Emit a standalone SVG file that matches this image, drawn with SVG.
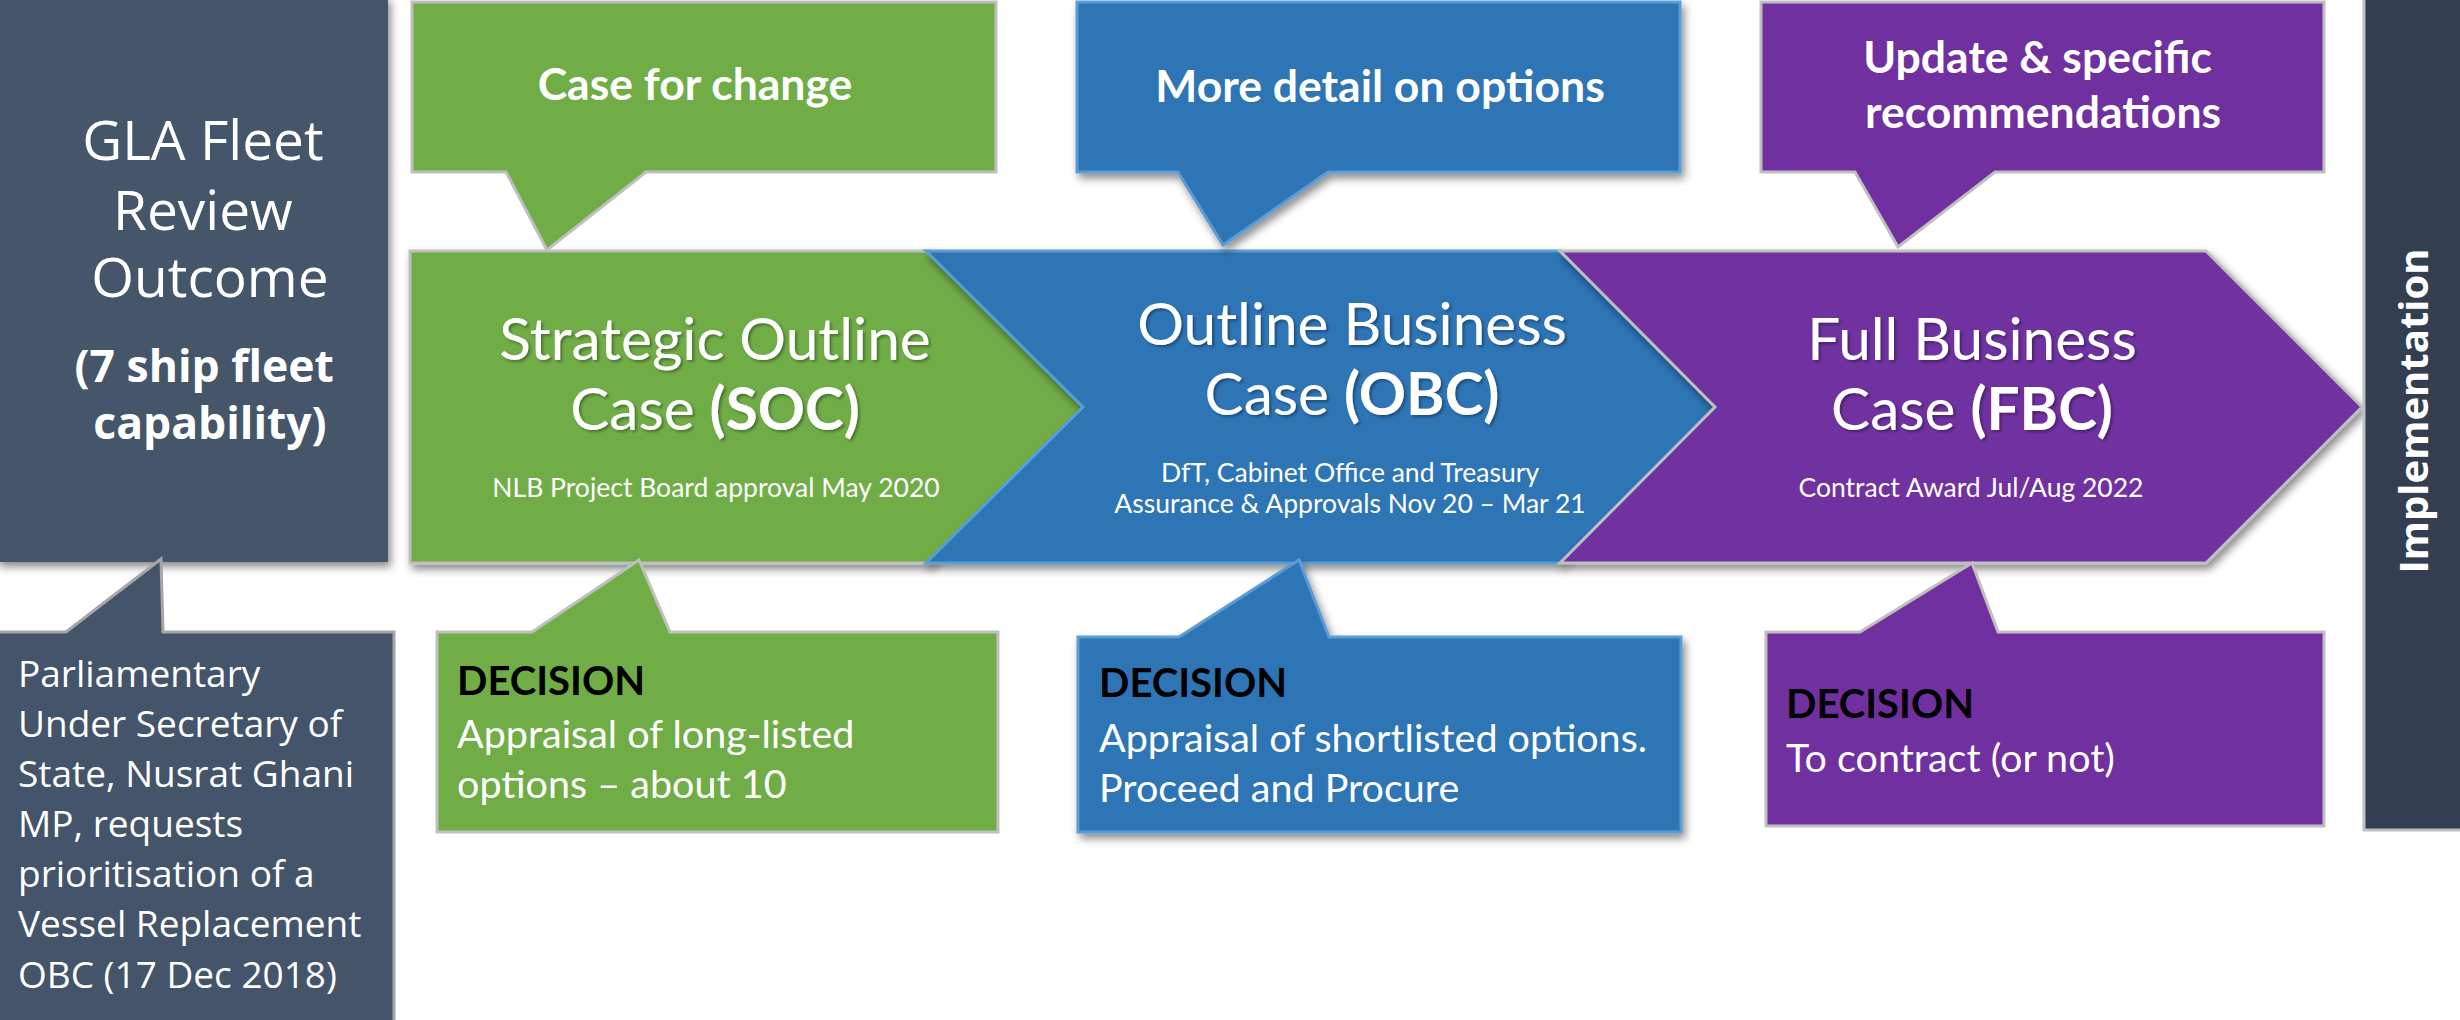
<svg xmlns="http://www.w3.org/2000/svg" width="2460" height="1020" viewBox="0 0 2460 1020">
<defs>
<filter id="sh" x="-10%" y="-10%" width="125%" height="130%">
<feDropShadow dx="3" dy="5" stdDeviation="4" flood-color="#000" flood-opacity="0.45"/>
</filter>
<filter id="ts" x="-5%" y="-20%" width="115%" height="150%">
<feDropShadow dx="2" dy="2" stdDeviation="1.5" flood-color="#000" flood-opacity="0.35"/>
</filter>
<style>
.cal{font-family:Lato,"Open Sans",sans-serif;fill:#fff}
.seg{font-family:"Open Sans","Noto Sans",sans-serif;fill:#fff}
.title{font-size:58.5px;text-anchor:middle}
.sub{font-size:26.5px;text-anchor:middle}
.cb{font-size:44.5px;font-weight:bold;text-anchor:middle}
.dec{font-size:39.5px}
.dech{font-size:40px;font-weight:bold;fill:#000}
.green{fill:#70AD47;stroke:#BFBFBF;stroke-width:3}
.blue{fill:#2E75B6;stroke:#5B9BD5;stroke-width:3}
.purple{fill:#7030A0;stroke:#BFBFBF;stroke-width:3}
.slate{fill:#44546A}
</style>
</defs>
<rect width="2460" height="1020" fill="#fff"/>

<g id="gla-outcome">
<rect class="slate" x="-4" y="-4" width="392" height="566" filter="url(#sh)"/>
<text class="seg" text-anchor="middle" font-size="55">
<tspan x="210" y="160">GLA Fleet</tspan>
<tspan x="210" y="230">Review</tspan>
<tspan x="210" y="297">Outcome</tspan>
</text>
<text class="seg" text-anchor="middle" font-size="44.5" font-weight="bold">
<tspan x="210" y="382">(7 ship fleet</tspan>
<tspan x="210" y="439">capability)</tspan>
</text>
</g>

<g id="parliamentary-request">
<path class="slate" d="M-4,632 H66 L161,559 L163,632 H394 V1030 H-4 Z" stroke="#A6A6A6" stroke-width="3"/>
<text class="seg" font-size="37">
<tspan x="18" y="687">Parliamentary</tspan>
<tspan x="18" y="737">Under Secretary of</tspan>
<tspan x="18" y="787">State, Nusrat Ghani</tspan>
<tspan x="18" y="837">MP, requests</tspan>
<tspan x="18" y="887">prioritisation of a</tspan>
<tspan x="18" y="937">Vessel Replacement</tspan>
<tspan x="18" y="988">OBC (17 Dec 2018)</tspan>
</text>
</g>

<g id="soc">
<path class="green" d="M410,251 H929 L1085,407 L929,563 H410 Z" filter="url(#sh)"/>
<g filter="url(#ts)">
<text class="cal title" x="715" y="360">Strategic Outline</text>
<text class="cal title" x="715" y="430">Case <tspan font-weight="bold">(SOC)</tspan></text>
</g>
<text class="cal sub" x="716" y="497">NLB Project Board approval May 2020</text>
</g>

<g id="obc">
<path class="blue" d="M926,251 H1561 L1716,407 L1561,563 H926 L1083,407 Z" filter="url(#sh)"/>
<g filter="url(#ts)">
<text class="cal title" x="1352" y="345">Outline Business</text>
<text class="cal title" x="1352" y="415">Case <tspan font-weight="bold">(OBC)</tspan></text>
</g>
<text class="cal sub" x="1350" y="482">DfT, Cabinet Office and Treasury</text>
<text class="cal sub" x="1350" y="513">Assurance &amp; Approvals Nov 20 – Mar 21</text>
</g>

<g id="fbc">
<path class="purple" d="M1560,251 H2206 L2362,407 L2206,563 H1560 L1715,407 Z" filter="url(#sh)"/>
<g filter="url(#ts)">
<text class="cal title" x="1972" y="360">Full Business</text>
<text class="cal title" x="1972" y="430">Case <tspan font-weight="bold">(FBC)</tspan></text>
</g>
<text class="cal sub" x="1971" y="497">Contract Award Jul/Aug 2022</text>
</g>

<g id="implementation">
<rect x="2364" y="-4" width="100" height="834" fill="#333F50" stroke="#BFBFBF" stroke-width="3"/>
<text class="seg" font-size="40" font-weight="bold" text-anchor="middle" transform="translate(2428,411) rotate(-90)" x="0" y="0">Implementation</text>
</g>

<g id="case-for-change">
<path class="green" d="M412,2 H996 V172 H646 L547,250 L506,172 H412 Z"/>
<text class="cal cb" x="695" y="100">Case for change</text>
</g>

<g id="more-detail">
<path class="blue" d="M1077,2 H1680 V172 H1328 L1223,245 L1178,172 H1077 Z" filter="url(#sh)"/>
<text class="cal cb" x="1380" y="102">More detail on options</text>
</g>

<g id="update-recommendations">
<path class="purple" d="M1761,2 H2324 V172 H1995 L1898,247 L1855,172 H1761 Z"/>
<text class="cal cb">
<tspan x="2043" y="73">Update &amp; specific</tspan>
<tspan x="2043" y="128">recommendations</tspan>
</text>
</g>

<g id="soc-decision">
<path class="green" d="M437,632 H532 L639,560 L670,632 H998 V832 H437 Z"/>
<text class="cal dech" x="457" y="695">DECISION</text>
<text class="cal dec">
<tspan x="457" y="748">Appraisal of long-listed</tspan>
<tspan x="457" y="798">options – about 10</tspan>
</text>
</g>

<g id="obc-decision">
<path class="blue" d="M1078,637 H1179 L1299,560 L1329,637 H1681 V832 H1078 Z" filter="url(#sh)"/>
<text class="cal dech" x="1099" y="697">DECISION</text>
<text class="cal dec">
<tspan x="1099" y="752">Appraisal of shortlisted options.</tspan>
<tspan x="1099" y="802">Proceed and Procure</tspan>
</text>
</g>

<g id="fbc-decision">
<path class="purple" d="M1766,632 H1860 L1972,563 L1998,632 H2324 V826 H1766 Z"/>
<text class="cal dech" x="1786" y="718">DECISION</text>
<text class="cal dec" x="1786" y="772">To contract (or not)</text>
</g>

<g id="connectors"></g>
</svg>
